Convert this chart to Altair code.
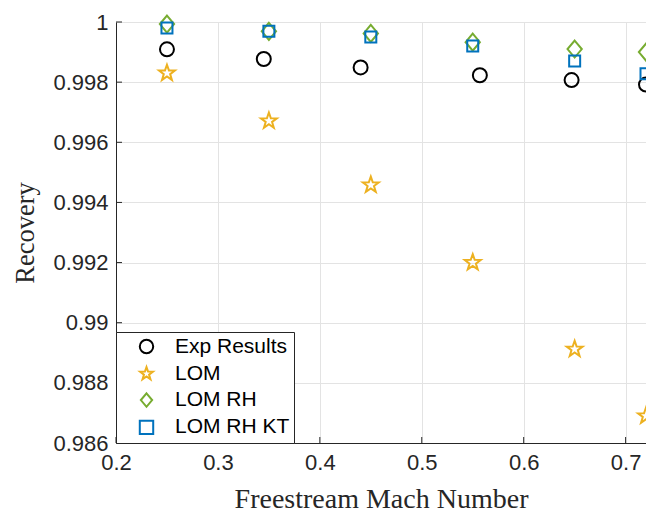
import altair as alt
import pandas as pd

# ---- data ----
series = ["Exp Results", "LOM", "LOM RH", "LOM RH KT"]
exp_mach = [0.25, 0.345, 0.44, 0.557, 0.647, 0.72]
exp_rec = [0.99909, 0.99877, 0.99849, 0.99823, 0.99807, 0.99792]
lom_mach = [0.25, 0.35, 0.45, 0.55, 0.65, 0.72]
lom_rec = [0.99830, 0.99671, 0.99458, 0.99200, 0.98912, 0.98690]
rh_rec = [0.99993, 0.99969, 0.99962, 0.99933, 0.99910, 0.99900]
kt_rec = [0.99980, 0.99969, 0.99950, 0.99920, 0.99870, 0.99828]
x_ticks = [0.2, 0.3, 0.4, 0.5, 0.6, 0.7]
y_ticks = [0.986, 0.988, 0.990, 0.992, 0.994, 0.996, 0.998, 1.0]

# ---- styles ----
colors = ["#000000", "#EDB120", "#77AC30", "#0072BD"]
STAR = ("M0,-1L0.235,-0.324L0.951,-0.309L0.380,0.124L0.588,0.809L0,0.4"
        "L-0.588,0.809L-0.380,0.124L-0.951,-0.309L-0.235,-0.324Z")
DIAMOND = "M0,-1L0.84,0L0,1L-0.84,0Z"
shapes = ["circle", STAR, DIAMOND, "square"]
size_expr = ("datum.series === 'Exp Results' ? 196 : datum.series === 'LOM' ? 282 : "
             "datum.series === 'LOM RH' ? 289 : 121")
AX = "#262626"
GRID = "#e3e3e3"

rows = []
for m, r in zip(exp_mach, exp_rec):
    rows.append({"mach": m, "rec": r, "series": series[0]})
for m, r in zip(lom_mach, lom_rec):
    rows.append({"mach": m, "rec": r, "series": series[1]})
for m, r in zip(lom_mach, rh_rec):
    rows.append({"mach": m, "rec": r, "series": series[2]})
for m, r in zip(lom_mach, kt_rec):
    rows.append({"mach": m, "rec": r, "series": series[3]})
df = pd.DataFrame(rows)

xscale = alt.Scale(domain=[0.2, 0.72], nice=False, zero=False)
yscale = alt.Scale(domain=[0.986, 1.0], nice=False, zero=False)

legend = alt.Legend(
    title=None, orient="bottom-left", offset=0,
    fillColor="white", strokeColor=AX, padding=4,
    labelFont="Liberation Sans", labelFontSize=21, labelColor="#000000",
    symbolStrokeWidth=2, symbolSize=180, symbolOffset=16, labelOffset=18,
    rowPadding=4.3, labelLimit=400,
)

points = alt.Chart(df).transform_calculate(sz=size_expr).mark_point(
    filled=False, strokeWidth=2, clip=False, opacity=1
).encode(
    x=alt.X("mach:Q", scale=xscale, title="Freestream Mach Number",
            axis=alt.Axis(values=x_ticks, format=".1f", ticks=False, grid=True,
                          labelFlush=False, gridColor=GRID, domainColor=AX,
                          labelColor=AX, labelFont="Liberation Sans",
                          labelFontSize=22, labelPadding=9,
                          titleFont="Liberation Serif", titleFontSize=28,
                          titleFontWeight="normal", titleColor=AX, titleY=64,
                          titleBaseline="alphabetic")),
    y=alt.Y("rec:Q", scale=yscale, title="Recovery",
            axis=alt.Axis(values=y_ticks, format=".3~f", ticks=False, grid=True,
                          labelFlush=False, gridColor=GRID, domainColor=AX,
                          labelColor=AX, labelFont="Liberation Sans",
                          labelFontSize=22, labelPadding=8,
                          titleFont="Liberation Serif", titleFontSize=26.5,
                          titleFontWeight="normal", titleColor=AX, titleX=-83,
                          titleBaseline="alphabetic")),
    color=alt.Color("series:N", scale=alt.Scale(domain=series, range=colors), legend=legend),
    shape=alt.Shape("series:N", scale=alt.Scale(domain=series, range=shapes), legend=legend),
    size=alt.Size("sz:Q", scale=None),
)

xt = alt.Chart(pd.DataFrame({"mach": x_ticks})).mark_rule(color=AX, strokeWidth=1).encode(
    x=alt.X("mach:Q", scale=xscale),
    y=alt.value(421), y2=alt.value(415),
)
yt = alt.Chart(pd.DataFrame({"rec": y_ticks})).mark_rule(color=AX, strokeWidth=1).encode(
    y=alt.Y("rec:Q", scale=yscale),
    x=alt.value(0), x2=alt.value(6),
)

chart = alt.layer(xt, yt, points).properties(
    width=530, height=421,
    padding={"left": 116, "top": 22, "right": 0, "bottom": 69},
    autosize=alt.AutoSizeParams(type="none"),
).configure_view(stroke=None).configure_axis(domainWidth=1)

chart.save("out.html", embed_options={"renderer": "svg", "actions": False})
